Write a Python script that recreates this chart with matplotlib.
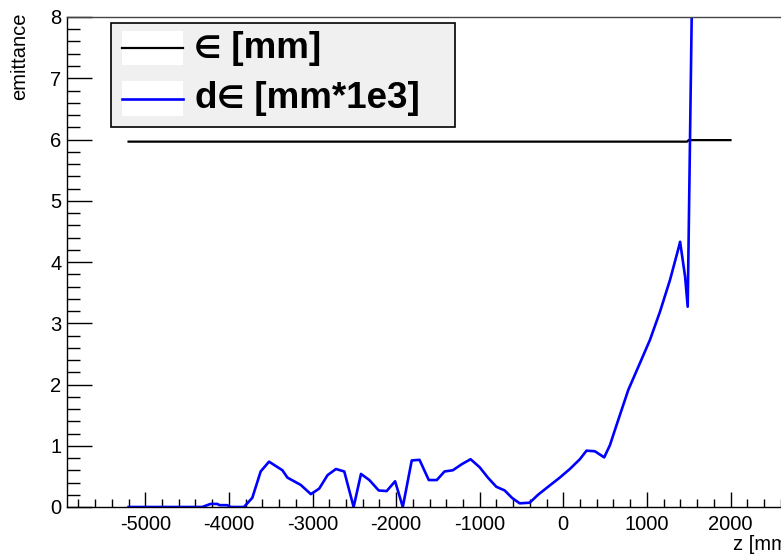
import matplotlib
matplotlib.use("Agg")
import matplotlib.pyplot as plt
from matplotlib.patches import Rectangle
from matplotlib.lines import Line2D
from matplotlib.ticker import MultipleLocator
from matplotlib.offsetbox import TextArea, HPacker, AnchoredOffsetbox

plt.rcParams['font.family'] = ['Liberation Sans', 'DejaVu Sans']
plt.rcParams['axes.unicode_minus'] = False

# emittance along z
z_emit = [-5200, 1480, 1500, 2000]
emit = [5.965, 5.965, 5.99, 5.99]

# emittance growth (scaled by 1e3)
z_demit = [-5200, -5000, -4800, -4600, -4400, -4320, -4220, -4140, -4110, -4020,
           -3980, -3820, -3720, -3620, -3520, -3360, -3300, -3140, -3020, -2920,
           -2820, -2720, -2620, -2508, -2420, -2320, -2208, -2113, -2012, -1920,
           -1813, -1720, -1609, -1513, -1421, -1321, -1213, -1109, -1001, -902,
           -801, -701, -614, -522, -402, -302, -182, -42, 78, 198,
           278, 378, 489, 558, 618, 657, 777, 917, 1037, 1157,
           1277, 1377, 1397, 1457, 1488, 1560]
demit = [0.0, 0.0, 0.0, 0.0, 0.0, 0.0, 0.05, 0.05, 0.03, 0.03,
         0.0, 0.0, 0.15, 0.58, 0.74, 0.60, 0.48, 0.36, 0.21, 0.30,
         0.52, 0.62, 0.58, 0.0, 0.54, 0.44, 0.27, 0.26, 0.42, 0.0,
         0.76, 0.77, 0.44, 0.44, 0.58, 0.60, 0.70, 0.78, 0.65, 0.48,
         0.33, 0.27, 0.15, 0.06, 0.07, 0.20, 0.33, 0.48, 0.62, 0.78,
         0.92, 0.91, 0.81, 1.01, 1.26, 1.42, 1.91, 2.35, 2.73, 3.19,
         3.71, 4.22, 4.33, 3.76, 3.27, 10.4]

# legend entries as (prefix, symbol, suffix)
legend_labels = [("", "\u2208", " [mm]"), ("d", "\u2208", " [mm*1e3]")]

W, H = 781, 556
fig = plt.figure(figsize=(W / 100, H / 100), dpi=100)
fig.patch.set_facecolor("white")

# frame: left 67px, top 17px, bottom 507px; right side runs past the canvas edge
ax_l, ax_r, ax_t, ax_b = 67, 800, 17, 507
ax = fig.add_axes([ax_l / W, 1 - ax_b / H, (ax_r - ax_l) / W, (ax_b - ax_t) / H])
x0_px, px_per_unit = 563.3, 0.0836
ax.set_xlim((ax_l - x0_px) / px_per_unit, (ax_r - x0_px) / px_per_unit)
ax.set_ylim(0, 8)

ax.plot(z_emit, emit, color="black", lw=1.6, solid_joinstyle="miter")
ax.plot(z_demit, demit, color="#0000ff", lw=1.9)

ax.xaxis.set_major_locator(MultipleLocator(1000))
ax.xaxis.set_minor_locator(MultipleLocator(200))
ax.yaxis.set_major_locator(MultipleLocator(1))
ax.yaxis.set_minor_locator(MultipleLocator(0.2))
ax.tick_params(axis="x", which="major", direction="in", length=11, width=1, labelsize=14.5, pad=6)
ax.tick_params(axis="x", which="minor", direction="in", length=6, width=1)
ax.tick_params(axis="y", which="major", direction="in", length=18, width=1, labelsize=14.5, pad=4)
ax.tick_params(axis="y", which="minor", direction="in", length=9, width=1)
for s in ["top", "right", "left", "bottom"]:
    ax.spines[s].set_linewidth(1)
ax.spines["top"].set_color("#444444")

# axis titles
fig.text(20 / W, 1 - 12 / H, "emittance", rotation=90, ha="center", va="top", fontsize=14.5)
fig.text(733 / W, 1 - 550 / H, "z [mm]", ha="left", va="baseline", fontsize=14.5)

# legend box
def fx(px):
    return px / W

def fy(py):
    return 1 - py / H

fig.patches.append(Rectangle((fx(111), fy(127)), fx(455) - fx(111), fy(23) - fy(127),
                             transform=fig.transFigure, facecolor="#f0f0f0",
                             edgecolor="black", lw=1.2, zorder=5))
bold = dict(fontsize=26.5, fontweight="bold", family=["Liberation Sans"])
sym = dict(fontsize=22, fontweight="bold", family=["DejaVu Sans"])
for yc, col, (pre, s, post) in [(48, "black", legend_labels[0]), (98.5, "#0000ff", legend_labels[1])]:
    fig.patches.append(Rectangle((fx(122), fy(yc + 17)), fx(183) - fx(122), fy(yc - 17) - fy(yc + 17),
                                 transform=fig.transFigure, facecolor="white",
                                 edgecolor="none", zorder=6))
    fig.lines.append(Line2D([fx(122), fx(183)], [fy(yc), fy(yc)], transform=fig.transFigure,
                            color=col, lw=1.9 if col != "black" else 1.6, zorder=7))
    parts = []
    if pre:
        parts.append(TextArea(pre, textprops=bold))
    parts.append(TextArea(s, textprops=sym))
    parts.append(TextArea(post, textprops=bold))
    packed = HPacker(children=parts, align="baseline", pad=0, sep=0)
    box = AnchoredOffsetbox(loc="center left", child=packed, pad=0, borderpad=0, frameon=False,
                            bbox_to_anchor=(fx(194), fy(yc)), bbox_transform=fig.transFigure)
    box.set_zorder(8)
    fig.add_artist(box)

fig.savefig("out.png", dpi=100)
